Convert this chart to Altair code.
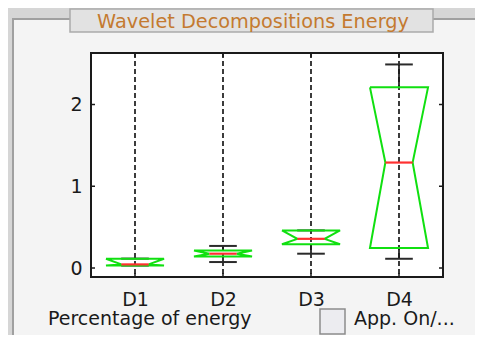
import altair as alt
import pandas as pd

# ---------------- data ----------------
categories = ["D1", "D2", "D3", "D4"]
q1 = [0.032, 0.140, 0.290, 0.244]
median = [0.044, 0.175, 0.357, 1.290]
q3 = [0.113, 0.215, 0.460, 2.210]
whisker_lo = [0.030, 0.073, 0.175, 0.113]
whisker_hi = [0.115, 0.270, 0.460, 2.490]
y_ticks = [0, 1, 2]
y_domain = [-0.11, 2.63]
title_text = "Wavelet Decompositions Energy"
xlabel_text = "Percentage of energy"
checkbox_text = "App. On/..."

# ---------------- styling ----------------
W, H = 352, 224
BOX_HW = 0.33
NOTCH_HW = 0.155
CAP_HW = 0.157
FONT = "DejaVu Sans"
GREEN = "#10e010"
RED = "#ff3030"
INK = "#1a1a1a"

pos = list(range(1, len(categories) + 1))
stats = pd.DataFrame(dict(cat=categories, pos=pos, q1=q1, med=median, q3=q3,
                          wlo=whisker_lo, whi=whisker_hi))
stats["cap_l"] = stats["pos"] - CAP_HW
stats["cap_r"] = stats["pos"] + CAP_HW
stats["med_l"] = stats["pos"] - NOTCH_HW
stats["med_r"] = stats["pos"] + NOTCH_HW

rows = []
for _, r in stats.iterrows():
    p = r["pos"]
    pts = [(p - BOX_HW, r["q3"]), (p - NOTCH_HW, r["med"]), (p - BOX_HW, r["q1"]),
           (p + BOX_HW, r["q1"]), (p + NOTCH_HW, r["med"]), (p + BOX_HW, r["q3"]),
           (p - BOX_HW, r["q3"])]
    for k, (xx, yy) in enumerate(pts):
        rows.append(dict(cat=r["cat"], o=k, x=xx, y=yy))
outline = pd.DataFrame(rows)
ticks_df = pd.DataFrame(dict(t=y_ticks))
one = pd.DataFrame(dict(a=[0]))

xs = alt.Scale(domain=[0.5, len(categories) + 0.5], nice=False, zero=False)
ys = alt.Scale(domain=y_domain, nice=False, zero=False)

label_expr = "[" + ",".join("'%s'" % c for c in categories) + "][datum.value - 1]"
x_axis = alt.Axis(values=pos, labelExpr=label_expr, title=None, grid=False, domain=False,
                  ticks=False, tickSize=0, labelFont=FONT, labelFontSize=19,
                  labelColor=INK, labelPadding=13, zindex=5)
y_axis = alt.Axis(values=y_ticks, title=None, grid=False, domain=False, ticks=False,
                  tickSize=0, labelFont=FONT, labelFontSize=19, labelColor=INK,
                  labelPadding=9, zindex=5)


def X(f):
    return alt.X(f, scale=xs, axis=x_axis)


def Y(f):
    return alt.Y(f, scale=ys, axis=y_axis)


# ---------------- GUI chrome ----------------
panel = alt.Chart(one).mark_rect(fill="#f4f4f4", stroke="#a0a0a0", strokeWidth=2).encode(
    x=alt.value(-78), x2=alt.value(420), y=alt.value(-34), y2=alt.value(300))
title_box = alt.Chart(one).mark_rect(fill="#e2e2e2", stroke="#ababab", strokeWidth=1.5).encode(
    x=alt.value(-21), x2=alt.value(342), y=alt.value(-44), y2=alt.value(-21))
title = alt.Chart(one).mark_text(font=FONT, fontSize=19.3, color="#c47a30", align="center",
                                 baseline="alphabetic").encode(
    x=alt.value(162), y=alt.value(-25), text=alt.value(title_text))
plot_bg = alt.Chart(one).mark_rect(fill="white").encode(
    x=alt.value(0), x2=alt.value(W), y=alt.value(0), y2=alt.value(H))
xlabel = alt.Chart(one).mark_text(font=FONT, fontSize=19, color=INK, align="left",
                                  baseline="alphabetic").encode(
    x=alt.value(-43), y=alt.value(272), text=alt.value(xlabel_text))
checkbox = alt.Chart(one).mark_rect(fill="#ececf0", stroke="#8c8c8c", strokeWidth=1.5).encode(
    x=alt.value(229), x2=alt.value(254), y=alt.value(256), y2=alt.value(281))
checkbox_lbl = alt.Chart(one).mark_text(font=FONT, fontSize=19, color=INK, align="left",
                                        baseline="alphabetic").encode(
    x=alt.value(263), y=alt.value(272), text=alt.value(checkbox_text))

# ---------------- boxplot ----------------
base = alt.Chart(stats)
dashed = base.mark_rule(color=INK, strokeWidth=1.7, strokeDash=[5, 3]).encode(
    x=X("pos:Q"), y=alt.value(0), y2=alt.value(H))
wh_up = base.mark_rule(color=INK, strokeWidth=1.7).encode(
    x=X("pos:Q"), y=Y("q3:Q"), y2="whi:Q")
wh_dn = base.mark_rule(color=INK, strokeWidth=1.7).encode(
    x=X("pos:Q"), y=Y("wlo:Q"), y2="q1:Q")
cap_up = base.mark_rule(color="#2a2a2a", strokeWidth=2).encode(
    x=X("cap_l:Q"), x2="cap_r:Q", y=Y("whi:Q"))
cap_dn = base.mark_rule(color="#2a2a2a", strokeWidth=2).encode(
    x=X("cap_l:Q"), x2="cap_r:Q", y=Y("wlo:Q"))
box = alt.Chart(outline).mark_line(color=GREEN, strokeWidth=2).encode(
    x=X("x:Q"), y=Y("y:Q"), detail="cat:N", order="o:Q")
med = base.mark_rule(color=RED, strokeWidth=2.2).encode(
    x=X("med_l:Q"), x2="med_r:Q", y=Y("med:Q"))

# inward ticks on all four sides
yt_l = alt.Chart(ticks_df).mark_rule(color=INK, strokeWidth=1.5).encode(
    y=Y("t:Q"), x=alt.value(0), x2=alt.value(4))
yt_r = alt.Chart(ticks_df).mark_rule(color=INK, strokeWidth=1.5).encode(
    y=Y("t:Q"), x=alt.value(W - 4), x2=alt.value(W))
xt_b = base.mark_rule(color=INK, strokeWidth=1.5).encode(
    x=X("pos:Q"), y=alt.value(H - 4), y2=alt.value(H))
xt_t = base.mark_rule(color=INK, strokeWidth=1.5).encode(
    x=X("pos:Q"), y=alt.value(0), y2=alt.value(4))
frame = alt.Chart(one).mark_rect(fill="white", fillOpacity=0, stroke=INK, strokeWidth=2).encode(
    x=alt.value(0), x2=alt.value(W), y=alt.value(0), y2=alt.value(H))

chart = alt.layer(
    panel, title_box, title, plot_bg, xlabel, checkbox, checkbox_lbl,
    dashed, wh_up, wh_dn, cap_up, cap_dn, box, med, yt_l, yt_r, xt_b, xt_t, frame
).properties(
    width=W, height=H,
    autosize=alt.AutoSizeParams(type="none"),
    padding={"left": 83, "top": 45, "right": 32, "bottom": 58},
).configure(background="#d6d6d6").configure_view(stroke=None)

chart.save("out.html", embed_options={"renderer": "svg", "actions": False})
